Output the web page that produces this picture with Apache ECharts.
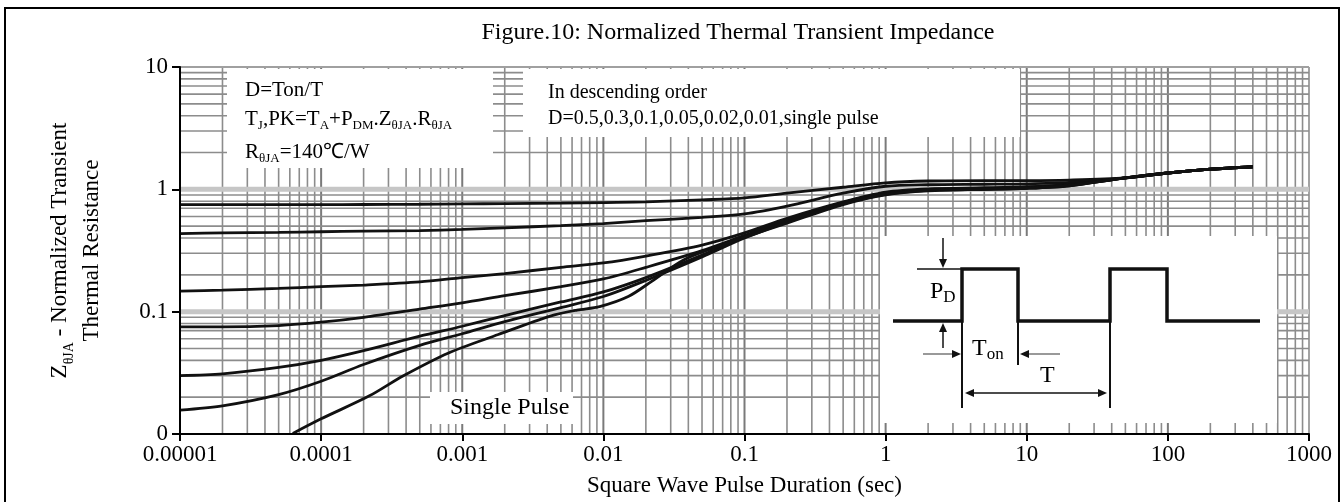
<!DOCTYPE html>
<html><head><meta charset="utf-8">
<script src="https://cdn.jsdelivr.net/npm/echarts@6/dist/echarts.min.js"></script>
<style>html,body{margin:0;padding:0;background:#fff}#c{width:1344px;height:502px}</style>
</head><body><div id="c"></div>
<script>
// ---- tick labels ----
const xTickValues = [0.00001, 0.0001, 0.001, 0.01, 0.1, 1, 10, 100, 1000];
const xTickLabels = ['0.00001', '0.0001', '0.001', '0.01', '0.1', '1', '10', '100', '1000'];
const yTickValues = [0.01, 0.1, 1, 10];
const yTickLabels = ['0', '0.1', '1', '10'];
const gridMultipliers = [1, 2, 3, 4, 5, 6, 7, 8, 9];

// ---- curves (square wave pulse duration, sec) ----
const pulseDuration = [1e-5, 2e-5, 5e-5, 1e-4, 2e-4, 5e-4, 1e-3, 2e-3, 5e-3, 1e-2, 2e-2, 5e-2, 0.1, 0.2, 0.5, 1, 2, 5, 10, 20, 50, 100, 200, 400];
const zD05 = [0.75, 0.75, 0.75, 0.75, 0.752, 0.755, 0.76, 0.765, 0.77, 0.78, 0.79, 0.82, 0.85, 0.93, 1.04, 1.13, 1.17, 1.18, 1.18, 1.19, 1.24, 1.36, 1.46, 1.53];
const zD03 = [0.435, 0.44, 0.445, 0.45, 0.455, 0.46, 0.47, 0.485, 0.505, 0.525, 0.555, 0.59, 0.63, 0.73, 0.93, 1.06, 1.09, 1.1, 1.11, 1.14, 1.24, 1.36, 1.46, 1.53];
const zD01 = [0.147, 0.15, 0.155, 0.16, 0.165, 0.175, 0.19, 0.205, 0.23, 0.25, 0.285, 0.35, 0.44, 0.58, 0.79, 0.95, 1.01, 1.03, 1.05, 1.1, 1.24, 1.36, 1.46, 1.53];
const zD005 = [0.075, 0.075, 0.077, 0.082, 0.09, 0.105, 0.118, 0.135, 0.16, 0.185, 0.23, 0.315, 0.42, 0.56, 0.78, 0.93, 1.0, 1.02, 1.04, 1.09, 1.24, 1.36, 1.46, 1.53];
const zD002 = [0.030, 0.031, 0.035, 0.040, 0.048, 0.063, 0.076, 0.093, 0.12, 0.145, 0.19, 0.29, 0.41, 0.55, 0.77, 0.92, 0.99, 1.01, 1.03, 1.08, 1.24, 1.36, 1.46, 1.53];
const zD001 = [0.0157, 0.017, 0.021, 0.027, 0.037, 0.053, 0.066, 0.083, 0.108, 0.133, 0.18, 0.28, 0.40, 0.54, 0.76, 0.91, 0.98, 1.0, 1.02, 1.07, 1.24, 1.36, 1.46, 1.53];
const singleDuration = [6.3e-5, 1e-4, 2.2e-4, 3.8e-4, 8e-4, 1.8e-3, 4.2e-3, 6.5e-3, 9.4e-3, 1.5e-2, 2.2e-2, 3.7e-2, 6.4e-2, 0.11, 0.2, 0.5, 1, 2, 5, 10, 20, 50, 100, 200, 400];
const zSingle = [0.0101, 0.0133, 0.0205, 0.0298, 0.046, 0.065, 0.092, 0.103, 0.11, 0.133, 0.177, 0.265, 0.34, 0.42, 0.53, 0.75, 0.9, 0.97, 1.0, 1.02, 1.07, 1.24, 1.36, 1.46, 1.53];

const FONT = 'Liberation Serif';
const X_MIN = xTickValues[0], X_MAX = xTickValues[xTickValues.length - 1];
const Y_MIN = yTickValues[0], Y_MAX = yTickValues[yTickValues.length - 1];

function labelFor(values, labels, v) {
  let best = 0, bd = Infinity;
  values.forEach((t, i) => { const d = Math.abs(Math.log10(t) - Math.log10(v)); if (d < bd) { bd = d; best = i; } });
  return labels[best];
}

// grid line positions (log paper)
const gridData = [];
xTickValues.forEach((d, i) => {
  if (i === xTickValues.length - 1) { gridData.push([d, 1, 0, 0]); return; }
  gridMultipliers.forEach(m => { const v = d * m; if (!(i === 0 && m === 1)) gridData.push([v, 1, 0, m === 1 ? 1 : 0]); });
});
yTickValues.forEach((d, i) => {
  if (i === yTickValues.length - 1) { gridData.push([1, d, 1, 2]); return; }
  gridMultipliers.forEach(m => { const v = d * m; if (!(i === 0 && m === 1)) gridData.push([1, v, 1, m === 1 ? 1 : 0]); });
});

function pairs(xs, ys) { return xs.map((x, i) => [x, ys[i]]); }
const curves = [
  ['D=0.5', pulseDuration, zD05], ['D=0.3', pulseDuration, zD03], ['D=0.1', pulseDuration, zD01],
  ['D=0.05', pulseDuration, zD005], ['D=0.02', pulseDuration, zD002], ['D=0.01', pulseDuration, zD001],
  ['Single Pulse', singleDuration, zSingle]
];

const subRich = (size, lh) => ({
  n: { fontFamily: FONT, fontSize: size, lineHeight: lh, color: '#000' },
  s: { fontFamily: FONT, fontSize: Math.round(size * 0.62), lineHeight: lh - 14, verticalAlign: 'bottom', color: '#000' }
});

const ink = '#111';
function gline(x1, y1, x2, y2, w, c) { return { type: 'line', z: 4, shape: { x1, y1, x2, y2 }, style: { stroke: c || ink, lineWidth: w } }; }
function tri(pts, c) { return { type: 'polygon', z: 4, shape: { points: pts }, style: { fill: c || ink } }; }
function box(x, y, w, h) { return { type: 'rect', z: 2, shape: { x, y, width: w, height: h }, style: { fill: '#fff' } }; }
function txt(x, y, text, size, rich, align) {
  return { type: 'text', z: 5, x, y, style: { text, fontFamily: FONT, fontSize: size, fill: '#000', align: align || 'left', verticalAlign: 'middle', rich } };
}

const graphics = [
  { type: 'rect', z: 6, shape: { x: 5, y: 8, width: 1334, height: 520 }, style: { fill: 'none', stroke: '#000', lineWidth: 2 } },
  txt(738, 33, 'Figure.10: Normalized Thermal Transient Impedance', 24, null, 'center'),
  box(227, 69, 266, 99),
  box(523, 69, 497, 68),
  box(880, 236, 397, 187),
  box(430, 392, 143, 32),
  txt(245, 90, 'D=Ton/T', 21),
  txt(245, 119, '{n|T}{s|J}{n|,PK=T}{s|A}{n|+P}{s|DM}{n|.Z}{s|θJA}{n|.R}{s|θJA}', 21, subRich(21, 26)),
  txt(245, 152, '{n|R}{s|θJA}{n|=140℃/W}', 21, subRich(21, 26)),
  txt(548, 93, 'In descending order', 20),
  txt(548, 119, 'D=0.5,0.3,0.1,0.05,0.02,0.01,single pulse', 20),
  txt(450, 408, 'Single Pulse', 24),
  // pulse diagram
  { type: 'polyline', z: 4, shape: { points: [[893,321],[962,321],[962,269],[1018,269],[1018,321],[1110,321],[1110,269],[1167,269],[1167,321],[1260,321]] }, style: { stroke: ink, lineWidth: 3.5, fill: null } },
  gline(962, 321, 962, 408, 2), gline(1018, 321, 1018, 365, 2), gline(1110, 321, 1110, 408, 2),
  gline(917, 269, 962, 269, 1.5),
  gline(943, 238, 943, 261, 1.5), tri([[943,268],[939,259],[947,259]]),
  gline(943, 331, 943, 348, 1.5), tri([[943,323],[939,332],[947,332]]),
  gline(923, 354, 954, 354, 2, '#999'), tri([[961,354],[952,350],[952,358]]),
  gline(1028, 354, 1060, 354, 2, '#999'), tri([[1020,354],[1029,350],[1029,358]]),
  gline(970, 393, 1102, 393, 1.5), tri([[965,393],[974,389],[974,397]]), tri([[1107,393],[1098,389],[1098,397]]),
  txt(930, 292, '{n|P}{s|D}', 24, { n: { fontFamily: FONT, fontSize: 24, lineHeight: 28, color: '#000' }, s: { fontFamily: FONT, fontSize: 17, lineHeight: 20, verticalAlign: 'bottom', color: '#000' } }),
  txt(972, 349, '{n|T}{s|on}', 24, { n: { fontFamily: FONT, fontSize: 24, lineHeight: 28, color: '#000' }, s: { fontFamily: FONT, fontSize: 17, lineHeight: 20, verticalAlign: 'bottom', color: '#000' } }),
  txt(1040, 376, 'T', 24)
];

const chart = echarts.init(document.getElementById('c'), null, { renderer: 'canvas' });
chart.setOption({
  animation: false,
  backgroundColor: '#fff',
  grid: { left: 180, right: 35, top: 67, bottom: 67 },
  xAxis: {
    type: 'log', logBase: 10, min: X_MIN, max: X_MAX, z: 10,
    name: 'Square Wave Pulse Duration (sec)', nameLocation: 'middle', nameGap: 40,
    nameTextStyle: { fontFamily: FONT, fontSize: 23, color: '#000' },
    axisLine: { show: true, lineStyle: { color: '#000', width: 2 } },
    axisTick: { show: true, length: 7, lineStyle: { color: '#000', width: 2 } },
    minorTick: { show: false },
    axisLabel: { fontFamily: FONT, fontSize: 23, color: '#000', margin: 9, showMinLabel: true, showMaxLabel: true,
      formatter: v => labelFor(xTickValues, xTickLabels, v) },
    splitLine: { show: false }
  },
  yAxis: {
    type: 'log', logBase: 10, min: Y_MIN, max: Y_MAX, z: 10,
    name: '{n|Z}{s|θJA}{n| - Normalized Transient}\n{n|Thermal Resistance}',
    nameLocation: 'middle', nameGap: 72, nameRotate: 90,
    nameTextStyle: { fontFamily: FONT, fontSize: 23, color: '#000', lineHeight: 32,
      rich: { n: { fontFamily: FONT, fontSize: 23, lineHeight: 32, color: '#000' }, s: { fontFamily: FONT, fontSize: 14, lineHeight: 18, verticalAlign: 'bottom', color: '#000' } } },
    axisLine: { show: true, lineStyle: { color: '#000', width: 2 } },
    axisTick: { show: true, length: 8, lineStyle: { color: '#000', width: 2 } },
    axisLabel: { fontFamily: FONT, fontSize: 23, color: '#000', margin: 12, showMinLabel: true, showMaxLabel: true,
      formatter: v => labelFor(yTickValues, yTickLabels, v) },
    splitLine: { show: false }
  },
  graphic: { elements: graphics },
  series: [
    {
      type: 'custom', z: 1, silent: true, data: gridData, clip: false,
      renderItem: (params, api) => {
        const dir = api.value(2), kind = api.value(3);
        let p1, p2;
        if (dir === 0) { const v = api.value(0); p1 = api.coord([v, Y_MIN]); p2 = api.coord([v, Y_MAX]); }
        else { const v = api.value(1); p1 = api.coord([X_MIN, v]); p2 = api.coord([X_MAX, v]); }
        let stroke = '#8c8c8c', lw = 1.6;
        if (dir === 1 && kind === 1) { stroke = '#c6c6c6'; lw = 5; }
        if (dir === 1 && kind === 2) { stroke = '#a0a0a0'; lw = 2; }
        if (dir === 0 && kind === 1) { stroke = '#7a7a7a'; lw = 2; }
        return { type: 'line', shape: { x1: p1[0], y1: p1[1], x2: p2[0], y2: p2[1] }, style: { stroke, lineWidth: lw } };
      }
    }
  ].concat(curves.map(([name, xs, ys]) => ({
    type: 'line', name, z: 3, data: pairs(xs, ys), showSymbol: false, smooth: 0.3, silent: true,
    lineStyle: { color: '#111', width: 2.8 }
  })))
});
</script></body></html>
